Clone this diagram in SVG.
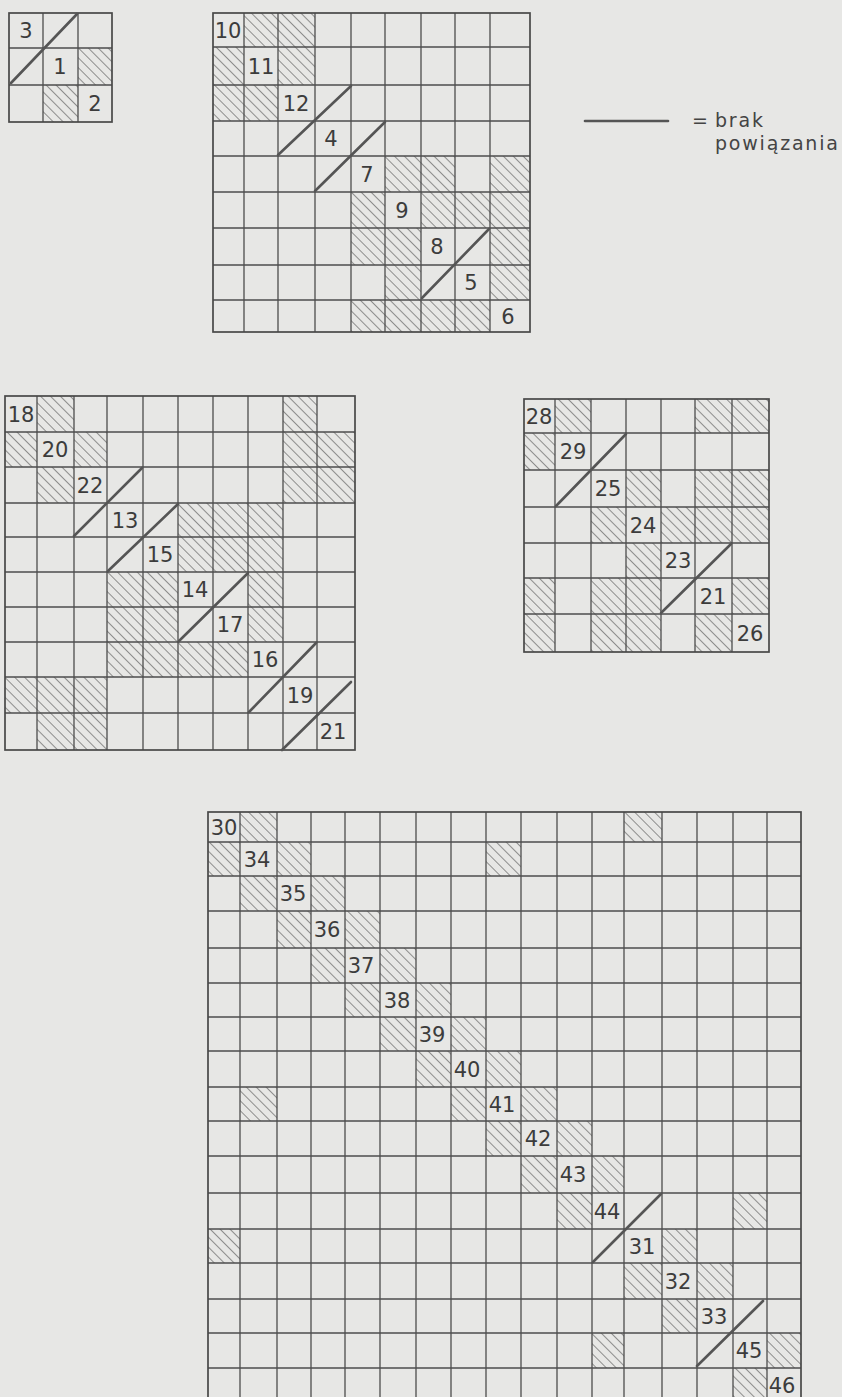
<svg xmlns="http://www.w3.org/2000/svg" width="842" height="1397" viewBox="0 0 842 1397">
<style>
.g{fill:none;stroke:#4d4d4d;stroke-width:1.3}
.b{fill:none;stroke:#484848;stroke-width:1.7}
.h{fill:url(#hatch);stroke:none}
.d{stroke:#555;stroke-width:2.6;stroke-linecap:round;fill:none}
.t{font-family:"DejaVu Sans","Liberation Sans",sans-serif;font-size:21px;fill:#3c3c3c;text-anchor:middle}
.lg{font-family:"DejaVu Sans","Liberation Sans",sans-serif;font-size:19px;fill:#444;letter-spacing:1.8px}
</style>
<defs>
<pattern id="hatch" width="7" height="7" patternUnits="userSpaceOnUse" patternTransform="rotate(-45)">
<line x1="0" y1="-1" x2="0" y2="8" stroke="#505050" stroke-width="1.2"/>
</pattern>
</defs>
<rect x="0" y="0" width="842" height="1397" fill="#e7e7e5"/>

<g id="matrix-1">
<rect class="h" x="78" y="48" width="34" height="37"/>
<rect class="h" x="43" y="85" width="35" height="37"/>
<path class="g" d="M43 13V122M78 13V122M9 48H112M9 85H112"/>
<rect class="b" x="9" y="13" width="103" height="109"/>
<text class="t" x="26" y="38">3</text>
<text class="t" x="60" y="74">1</text>
<text class="t" x="95" y="111">2</text>
</g>

<g id="matrix-2">
<rect class="h" x="244" y="13" width="71" height="34"/>
<rect class="h" x="213" y="47" width="31" height="38"/>
<rect class="h" x="278" y="47" width="37" height="38"/>
<rect class="h" x="213" y="85" width="65" height="36"/>
<rect class="h" x="385" y="156" width="70" height="36"/>
<rect class="h" x="490" y="156" width="40" height="36"/>
<rect class="h" x="351" y="192" width="34" height="36"/>
<rect class="h" x="421" y="192" width="109" height="36"/>
<rect class="h" x="351" y="228" width="70" height="37"/>
<rect class="h" x="490" y="228" width="40" height="37"/>
<rect class="h" x="385" y="265" width="36" height="35"/>
<rect class="h" x="490" y="265" width="40" height="35"/>
<rect class="h" x="351" y="300" width="139" height="32"/>
<path class="g" d="M244 13V332M278 13V332M315 13V332M351 13V332M385 13V332M421 13V332M455 13V332M490 13V332M213 47H530M213 85H530M213 121H530M213 156H530M213 192H530M213 228H530M213 265H530M213 300H530"/>
<rect class="b" x="213" y="13" width="317" height="319"/>
<text class="t" x="228" y="38">10</text>
<text class="t" x="261" y="74">11</text>
<text class="t" x="296" y="111">12</text>
<text class="t" x="331" y="146">4</text>
<text class="t" x="367" y="182">7</text>
<text class="t" x="402" y="218">9</text>
<text class="t" x="437" y="254">8</text>
<text class="t" x="471" y="290">5</text>
<text class="t" x="508" y="324">6</text>
</g>

<g id="legend">
<line class="d" x1="585" y1="121" x2="668" y2="121"/>
<text class="lg" x="692" y="127">=</text>
<text class="lg" x="715" y="127">brak</text>
<text class="lg" x="715" y="150">powiązania</text>
</g>

<g id="matrix-3">
<rect class="h" x="37" y="396" width="37" height="36"/>
<rect class="h" x="283" y="396" width="34" height="36"/>
<rect class="h" x="5" y="432" width="32" height="35"/>
<rect class="h" x="74" y="432" width="33" height="35"/>
<rect class="h" x="283" y="432" width="72" height="71"/>
<rect class="h" x="37" y="467" width="37" height="36"/>
<rect class="h" x="178" y="503" width="105" height="69"/>
<rect class="h" x="107" y="572" width="71" height="70"/>
<rect class="h" x="248" y="572" width="35" height="70"/>
<rect class="h" x="107" y="642" width="141" height="35"/>
<rect class="h" x="5" y="677" width="102" height="36"/>
<rect class="h" x="37" y="713" width="70" height="37"/>
<path class="g" d="M37 396V750M74 396V750M107 396V750M143 396V750M178 396V750M213 396V750M248 396V750M283 396V750M317 396V750M5 432H355M5 467H355M5 503H355M5 537H355M5 572H355M5 607H355M5 642H355M5 677H355M5 713H355"/>
<rect class="b" x="5" y="396" width="350" height="354"/>
<text class="t" x="21" y="422">18</text>
<text class="t" x="55" y="457">20</text>
<text class="t" x="90" y="493">22</text>
<text class="t" x="125" y="528">13</text>
<text class="t" x="160" y="562">15</text>
<text class="t" x="195" y="597">14</text>
<text class="t" x="230" y="632">17</text>
<text class="t" x="265" y="667">16</text>
<text class="t" x="300" y="703">19</text>
<text class="t" x="333" y="739">21</text>
</g>

<g id="matrix-4">
<rect class="h" x="555" y="399" width="36" height="34"/>
<rect class="h" x="695" y="399" width="74" height="34"/>
<rect class="h" x="524" y="433" width="31" height="37"/>
<rect class="h" x="626" y="470" width="35" height="37"/>
<rect class="h" x="695" y="470" width="74" height="37"/>
<rect class="h" x="591" y="507" width="35" height="36"/>
<rect class="h" x="661" y="507" width="108" height="36"/>
<rect class="h" x="626" y="543" width="35" height="35"/>
<rect class="h" x="524" y="578" width="31" height="74"/>
<rect class="h" x="591" y="578" width="70" height="74"/>
<rect class="h" x="732" y="578" width="37" height="36"/>
<rect class="h" x="695" y="614" width="37" height="38"/>
<path class="g" d="M555 399V652M591 399V652M626 399V652M661 399V652M695 399V652M732 399V652M524 433H769M524 470H769M524 507H769M524 543H769M524 578H769M524 614H769"/>
<rect class="b" x="524" y="399" width="245" height="253"/>
<text class="t" x="539" y="424">28</text>
<text class="t" x="573" y="459">29</text>
<text class="t" x="608" y="496">25</text>
<text class="t" x="643" y="533">24</text>
<text class="t" x="678" y="568">23</text>
<text class="t" x="713" y="604">21</text>
<text class="t" x="750" y="641">26</text>
</g>

<g id="matrix-5">
<rect class="h" x="240" y="812" width="37" height="30"/>
<rect class="h" x="624" y="812" width="38" height="30"/>
<rect class="h" x="208" y="842" width="32" height="34"/>
<rect class="h" x="277" y="842" width="34" height="34"/>
<rect class="h" x="486" y="842" width="35" height="34"/>
<rect class="h" x="240" y="876" width="37" height="35"/>
<rect class="h" x="311" y="876" width="34" height="35"/>
<rect class="h" x="277" y="911" width="34" height="37"/>
<rect class="h" x="345" y="911" width="35" height="37"/>
<rect class="h" x="311" y="948" width="34" height="35"/>
<rect class="h" x="380" y="948" width="36" height="35"/>
<rect class="h" x="345" y="983" width="35" height="34"/>
<rect class="h" x="416" y="983" width="35" height="34"/>
<rect class="h" x="380" y="1017" width="36" height="34"/>
<rect class="h" x="451" y="1017" width="35" height="34"/>
<rect class="h" x="416" y="1051" width="35" height="36"/>
<rect class="h" x="486" y="1051" width="35" height="36"/>
<rect class="h" x="240" y="1087" width="37" height="34"/>
<rect class="h" x="451" y="1087" width="35" height="34"/>
<rect class="h" x="521" y="1087" width="36" height="34"/>
<rect class="h" x="486" y="1121" width="35" height="35"/>
<rect class="h" x="557" y="1121" width="35" height="35"/>
<rect class="h" x="521" y="1156" width="36" height="37"/>
<rect class="h" x="592" y="1156" width="32" height="37"/>
<rect class="h" x="557" y="1193" width="35" height="36"/>
<rect class="h" x="733" y="1193" width="34" height="36"/>
<rect class="h" x="208" y="1229" width="32" height="34"/>
<rect class="h" x="662" y="1229" width="35" height="34"/>
<rect class="h" x="624" y="1263" width="38" height="36"/>
<rect class="h" x="697" y="1263" width="36" height="36"/>
<rect class="h" x="662" y="1299" width="35" height="34"/>
<rect class="h" x="592" y="1333" width="32" height="35"/>
<rect class="h" x="767" y="1333" width="34" height="35"/>
<rect class="h" x="733" y="1368" width="34" height="34"/>
<path class="g" d="M240 812V1402M277 812V1402M311 812V1402M345 812V1402M380 812V1402M416 812V1402M451 812V1402M486 812V1402M521 812V1402M557 812V1402M592 812V1402M624 812V1402M662 812V1402M697 812V1402M733 812V1402M767 812V1402M208 842H801M208 876H801M208 911H801M208 948H801M208 983H801M208 1017H801M208 1051H801M208 1087H801M208 1121H801M208 1156H801M208 1193H801M208 1229H801M208 1263H801M208 1299H801M208 1333H801M208 1368H801"/>
<rect class="b" x="208" y="812" width="593" height="590"/>
<text class="t" x="224" y="835">30</text>
<text class="t" x="257" y="867">34</text>
<text class="t" x="293" y="901">35</text>
<text class="t" x="327" y="937">36</text>
<text class="t" x="361" y="973">37</text>
<text class="t" x="397" y="1008">38</text>
<text class="t" x="432" y="1042">39</text>
<text class="t" x="467" y="1077">40</text>
<text class="t" x="502" y="1112">41</text>
<text class="t" x="538" y="1146">42</text>
<text class="t" x="573" y="1182">43</text>
<text class="t" x="607" y="1219">44</text>
<text class="t" x="642" y="1254">31</text>
<text class="t" x="678" y="1289">32</text>
<text class="t" x="714" y="1324">33</text>
<text class="t" x="749" y="1358">45</text>
<text class="t" x="782" y="1393">46</text>
</g>

<g id="connectors">
<line class="d" x1="11" y1="83" x2="77" y2="14"/>
<line class="d" x1="278" y1="155" x2="351" y2="86"/>
<line class="d" x1="315" y1="191" x2="385" y2="122"/>
<line class="d" x1="422" y1="298" x2="489" y2="229"/>
<line class="d" x1="74" y1="536" x2="142" y2="468"/>
<line class="d" x1="108" y1="571" x2="178" y2="504"/>
<line class="d" x1="179" y1="641" x2="248" y2="573"/>
<line class="d" x1="249" y1="712" x2="316" y2="643"/>
<line class="d" x1="282" y1="750" x2="351" y2="682"/>
<line class="d" x1="556" y1="506" x2="626" y2="434"/>
<line class="d" x1="661" y1="613" x2="731" y2="544"/>
<line class="d" x1="593" y1="1262" x2="661" y2="1194"/>
<line class="d" x1="697" y1="1366" x2="763" y2="1301"/>
</g>
</svg>
